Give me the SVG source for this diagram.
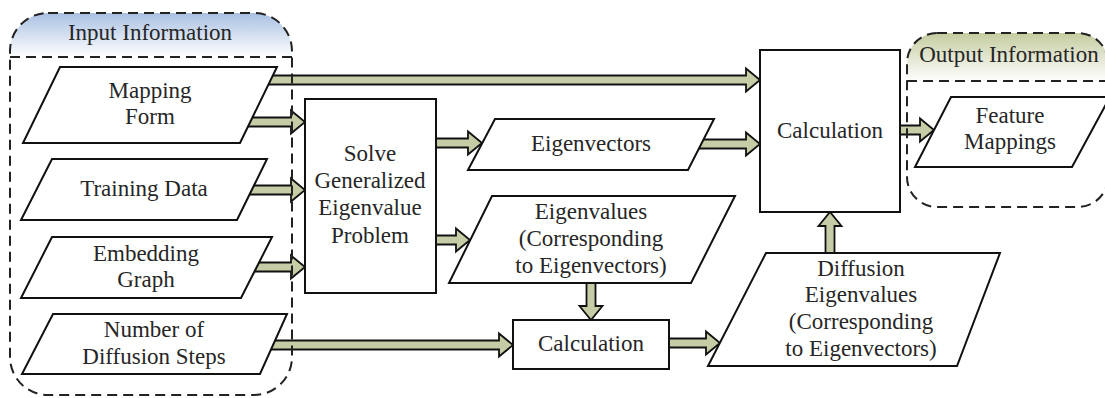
<svg xmlns="http://www.w3.org/2000/svg" width="1105" height="398" viewBox="0 0 1105 398">
<style>
.t{font-family:'Liberation Serif','Times New Roman','DejaVu Serif',serif;font-size:23px;fill:#262626;text-anchor:middle}
.n{fill:#fff;stroke:#111;stroke-width:2;stroke-linejoin:miter}
.arr{fill:#c6cda6;stroke:#111;stroke-width:1.8;stroke-linejoin:miter}
.dash{fill:none;stroke:#222;stroke-width:2;stroke-dasharray:10 6}
</style>
<defs>
<linearGradient id="gIn" x1="0" y1="0" x2="0" y2="1">
<stop offset="0" stop-color="#a9c0e2"/>
<stop offset="1" stop-color="#ffffff"/>
</linearGradient>
<linearGradient id="gOut" x1="0" y1="0" x2="0" y2="1">
<stop offset="0" stop-color="#c4cca0"/>
<stop offset="1" stop-color="#ffffff"/>
</linearGradient>
</defs>
<rect width="1105" height="398" fill="#fff"/>

<g id="input-container-bg">
<path d="M10,57 L10,51 A38,38 0 0 1 48,13 L254,13 A38,38 0 0 1 292,51 L292,57 Z" fill="url(#gIn)"/>
</g>
<g id="output-container-bg">
<path d="M907,81 L907,63 A30,30 0 0 1 937,33 L1078,33 A30,30 0 0 1 1108,63 L1108,81 Z" fill="url(#gOut)"/>
</g>

<g id="connectors">
<polygon class="arr" points="266,75.5 746,75.5 746,68.5 760,80 746,91.5 746,84.5 266,84.5"/>
<polygon class="arr" points="246,117.5 291,117.5 291,110.5 305,122 291,133.5 291,126.5 246,126.5"/>
<polygon class="arr" points="248,185.5 291,185.5 291,178.5 305,190 291,201.5 291,194.5 248,194.5"/>
<polygon class="arr" points="253,262.5 291,262.5 291,255.5 305,267 291,278.5 291,271.5 253,271.5"/>
<polygon class="arr" points="269,340.5 499,340.5 499,333.5 513,345 499,356.5 499,349.5 269,349.5"/>
<polygon class="arr" points="436,138.5 468,138.5 468,131.5 482,143 468,154.5 468,147.5 436,147.5"/>
<polygon class="arr" points="436,235.5 456,235.5 456,228.5 470,240 456,251.5 456,244.5 436,244.5"/>
<polygon class="arr" points="697,139.5 746,139.5 746,132.5 760,144 746,155.5 746,148.5 697,148.5"/>
<polygon class="arr" points="586.5,283 586.5,306 579.5,306 591,320 602.5,306 595.5,306 595.5,283"/>
<polygon class="arr" points="669,338.5 706,338.5 706,331.5 720,343 706,354.5 706,347.5 669,347.5"/>
<polygon class="arr" points="825.5,253 825.5,226 818.5,226 830,212 841.5,226 834.5,226 834.5,253"/>
<polygon class="arr" points="900,125.5 920,125.5 920,118.5 934,130 920,141.5 920,134.5 900,134.5"/>
</g>

<g id="mapping-form">
<polygon class="n" points="60,67 277,67 240,143 23,143"/>
<text class="t" x="150" y="98">Mapping</text>
<text class="t" x="150" y="124">Form</text>
</g>
<g id="training-data">
<polygon class="n" points="52,159 267,159 237,220 21,220"/>
<text class="t" x="144" y="196">Training Data</text>
</g>
<g id="embedding-graph">
<polygon class="n" points="52,237 272,237 241,298 21,298"/>
<text class="t" x="146" y="261">Embedding</text>
<text class="t" x="146" y="287">Graph</text>
</g>
<g id="diffusion-steps">
<polygon class="n" points="53,314 287,314 260,374 22,374"/>
<text class="t" x="154" y="337">Number of</text>
<text class="t" x="154" y="364">Diffusion Steps</text>
</g>
<g id="solve">
<rect class="n" x="305" y="99" width="131" height="194"/>
<text class="t" x="370" y="161">Solve</text>
<text class="t" x="370" y="188">Generalized</text>
<text class="t" x="370" y="215">Eigenvalue</text>
<text class="t" x="370" y="243">Problem</text>
</g>
<g id="eigenvectors">
<polygon class="n" points="495,119 714,119 688,170 468,170"/>
<text class="t" x="591" y="151">Eigenvectors</text>
</g>
<g id="eigenvalues">
<polygon class="n" points="492,196 735,196 691,283 449,283"/>
<text class="t" x="591" y="219">Eigenvalues</text>
<text class="t" x="591" y="246">(Corresponding</text>
<text class="t" x="591" y="273">to Eigenvectors)</text>
</g>
<g id="calculation-lower">
<rect class="n" x="513" y="320" width="156" height="49"/>
<text class="t" x="591" y="351">Calculation</text>
</g>
<g id="diffusion-eigenvalues">
<polygon class="n" points="766,253 1000,253 957,366 708,366"/>
<text class="t" x="861" y="276">Diffusion</text>
<text class="t" x="861" y="302">Eigenvalues</text>
<text class="t" x="861" y="329">(Corresponding</text>
<text class="t" x="861" y="356">to Eigenvectors)</text>
</g>
<g id="calculation-upper">
<rect class="n" x="760" y="50" width="140" height="162"/>
<text class="t" x="830" y="138">Calculation</text>
</g>
<g id="feature-mappings">
<polygon class="n" points="951,97 1110,97 1072,167 915,167"/>
<text class="t" x="1010" y="123">Feature</text>
<text class="t" x="1010" y="149">Mappings</text>
</g>

<g id="input-container">
<rect class="dash" x="10" y="13" width="282" height="382" rx="38"/>
<line class="dash" x1="10" y1="57" x2="292" y2="57"/>
<text class="t" x="150" y="40">Input Information</text>
</g>
<g id="output-container">
<rect class="dash" x="907" y="33" width="201" height="174" rx="30"/>
<line class="dash" x1="907" y1="81" x2="1108" y2="81"/>
<text class="t" x="1009" y="62">Output Information</text>
</g>
</svg>
